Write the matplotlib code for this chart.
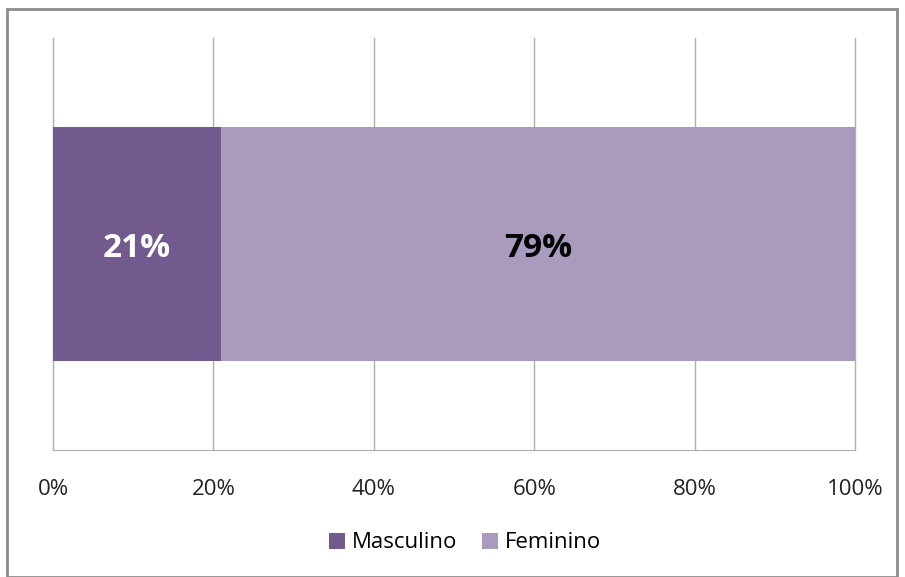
import matplotlib.pyplot as plt
from matplotlib.patches import Rectangle

# dados
categorias = ["Masculino", "Feminino"]
valores = [21, 79]
cores = ["#725a8f", "#a99abe"]
cores_texto = ["white", "black"]
ticks = [0, 20, 40, 60, 80, 100]
tick_labels = ["0%", "20%", "40%", "60%", "80%", "100%"]

plt.rcParams["font.family"] = ["Open Sans", "DejaVu Sans"]

fig = plt.figure(figsize=(9.05, 5.77), dpi=100)
ax = fig.add_axes([53 / 905, 1 - 450 / 577, (855 - 53) / 905, (450 - 38) / 577])

# barra empilhada
esquerda = 0
for nome, v, c, ct in zip(categorias, valores, cores, cores_texto):
    ax.barh(0, v, left=esquerda, height=0.57, color=c, label=nome, zorder=3)
    ax.text(esquerda + v / 2, -0.01, f"{v}%", ha="center", va="center",
            color=ct, fontsize=24, fontweight="bold", zorder=4)
    esquerda += v

ax.set_xlim(0, 100)
ax.set_ylim(-0.5, 0.5)
ax.set_xticks(ticks)
ax.set_xticklabels(tick_labels, fontsize=16)
ax.set_yticks([])
ax.grid(axis="x", color="#b0b0b0", linewidth=1, zorder=0)
for gl in ax.get_xgridlines():
    gl.set_clip_on(False)
ax.tick_params(axis="x", length=0, pad=21, colors="#222222")
for s in ["top", "right"]:
    ax.spines[s].set_visible(False)
ax.spines["left"].set_color("#b0b0b0")
ax.spines["bottom"].set_color("#b0b0b0")

fig.legend(loc="center", bbox_to_anchor=(465 / 905, 1 - 543 / 577), ncol=2,
           frameon=False, fontsize=16, handlelength=0.7, handleheight=0.7,
           handletextpad=0.3, columnspacing=1.15)

# borda da figura
fig.patches.append(Rectangle((7 / 905, 0), 890 / 905, 1 - 9 / 577,
                             transform=fig.transFigure, fill=False,
                             edgecolor="#8c8c8c", linewidth=2))

fig.savefig("out.png", dpi=100)
